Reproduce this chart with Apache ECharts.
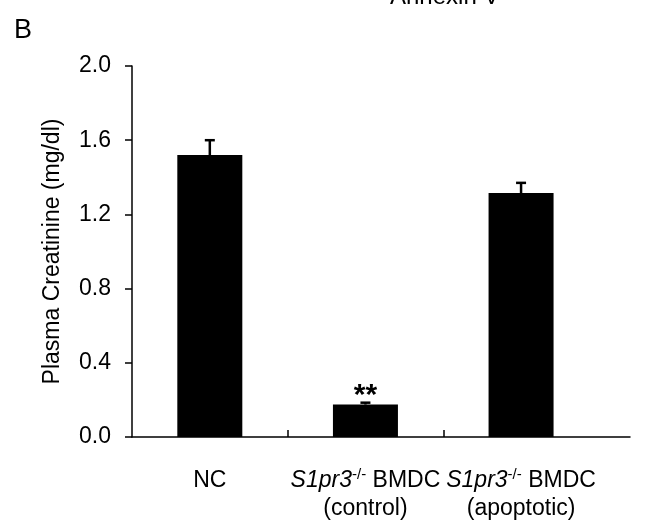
<!DOCTYPE html>
<html lang="en">
<head>
    <meta charset="UTF-8" />
    <title>Plasma Creatinine</title>
    <script src="https://cdn.jsdelivr.net/npm/echarts@6/dist/echarts.min.js"></script>
</head>
<body style="margin:0">
<div id="main" style="width: 645px;height:523px;"></div>
<script type="text/javascript">
    // data
    var categories = ['NC', 'S1pr3-/- BMDC\n(control)', 'S1pr3-/- BMDC\n(apoptotic)'];
    var positions = [0.5, 1.5, 2.5];
    var means = [1.52, 0.175, 1.315];
    var errors = [0.08, 0.01, 0.055];
    var marks = ['', '**', ''];
    var yTicks = [0, 0.4, 0.8, 1.2, 1.6, 2.0];

    var font = "'Liberation Sans', Arial, sans-serif";
    var myChart = echarts.init(document.getElementById('main'));

    var barData = [];
    var errData = [];
    for (var i = 0; i < categories.length; i++) {
        barData.push([positions[i], means[i]]);
        errData.push([positions[i], means[i], means[i] + errors[i]]);
    }

    var option = {
        animation: false,
        title: [
            {text: 'B', left: 9, top: 12, textStyle: {fontFamily: font, fontSize: 27, fontWeight: 'normal', color: '#000'}},
            {text: 'Annexin V', left: 385, top: -20, textStyle: {fontFamily: font, fontSize: 24, fontWeight: 'normal', color: '#000'}}
        ],
        grid: {left: 132, top: 66, width: 498, height: 371},
        xAxis: {
            type: 'value',
            min: 0,
            max: 3.2,
            splitLine: {show: false},
            axisLine: {show: true, lineStyle: {color: '#000', width: 1.5}},
            axisTick: {show: true, inside: true, length: 7, customValues: [1, 2], lineStyle: {color: '#000', width: 1.5}},
            axisLabel: {
                customValues: positions,
                margin: 30,
                color: '#000',
                fontFamily: font,
                fontSize: 23,
                lineHeight: 28,
                formatter: function (v) {
                    var txt = categories[Math.floor(v)];
                    return txt.replace('S1pr3-/-', '{i|S1pr3}{s|-/-}');
                },
                rich: {
                    i: {fontStyle: 'italic', fontFamily: font, fontSize: 23, color: '#000'},
                    s: {fontFamily: font, fontSize: 15, color: '#000', verticalAlign: 'top', padding: [0, 0, 12, 0]}
                }
            }
        },
        yAxis: {
            type: 'value',
            min: yTicks[0],
            max: yTicks[yTicks.length - 1],
            interval: 0.4,
            name: 'Plasma Creatinine (mg/dl)',
            nameLocation: 'middle',
            nameGap: 68,
            nameTextStyle: {fontFamily: font, fontSize: 23, color: '#000'},
            splitLine: {show: false},
            axisLine: {show: true, lineStyle: {color: '#000', width: 1.5}},
            axisTick: {show: true, length: 7, lineStyle: {color: '#000', width: 1.5}},
            axisLabel: {
                margin: 21,
                color: '#000',
                fontFamily: font,
                fontSize: 23,
                formatter: function (v) { return v.toFixed(1); }
            }
        },
        series: [
            {
                type: 'bar',
                data: barData,
                barWidth: 65,
                itemStyle: {color: '#000'},
                label: {
                    show: true,
                    position: 'top',
                    distance: -6,
                    color: '#000',
                    fontFamily: font,
                    fontSize: 30,
                    fontWeight: 'bold',
                    formatter: function (p) { return marks[p.dataIndex]; }
                },
                z: 2
            },
            {
                type: 'custom',
                data: errData,
                z: 3,
                renderItem: function (params, api) {
                    var base = api.coord([api.value(0), api.value(1)]);
                    var top = api.coord([api.value(0), api.value(2)]);
                    var half = 5;
                    return {
                        type: 'group',
                        children: [
                            {type: 'line', shape: {x1: base[0], y1: base[1], x2: top[0], y2: top[1]}, style: {stroke: '#000', lineWidth: 2.5}},
                            {type: 'line', shape: {x1: top[0] - half, y1: top[1], x2: top[0] + half, y2: top[1]}, style: {stroke: '#000', lineWidth: 2.5}}
                        ]
                    };
                }
            }
        ]
    };
    myChart.setOption(option);
</script>
</body>
</html>
